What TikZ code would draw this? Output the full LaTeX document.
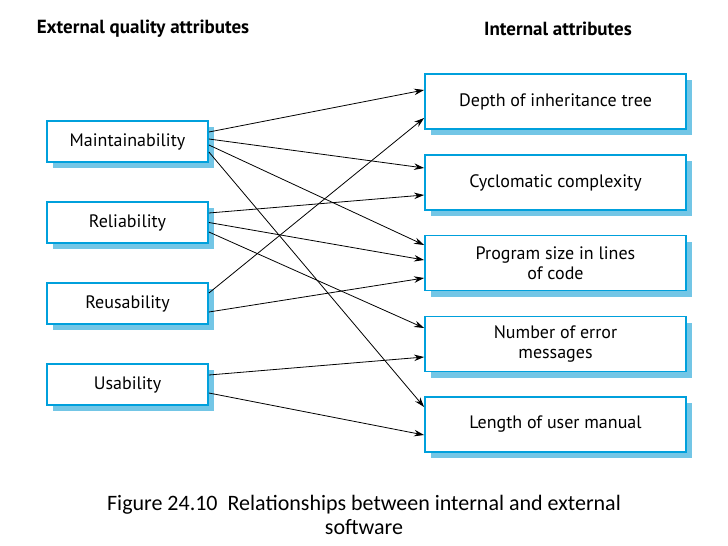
\documentclass[tikz,border=0pt]{standalone}
\usepackage{fontspec}
\setmainfont{PT Sans}
\newfontfamily\capfont{Carlito}
\usetikzlibrary{arrows.meta,shadows}
\definecolor{boxCyan}{RGB}{0,160,220}
\definecolor{shadowBlue}{RGB}{115,198,230}
\begin{document}
\begin{tikzpicture}[x=1pt, y=-1pt,
    attr/.style={draw=boxCyan, line width=1.8pt, fill=white, align=center,
      font=\fontsize{18}{20}\selectfont,
      drop shadow={shadow xshift=6pt, shadow yshift=-6pt, fill=shadowBlue, opacity=1}},
    ext/.style={attr, minimum width=161pt, minimum height=41pt},
    int/.style={attr, minimum width=261pt, minimum height=55pt},
    head/.style={font=\bfseries\fontsize{19}{22}\selectfont},
    link/.style={-{Stealth[length=10pt, width=6.5pt]}, line width=0.8pt}]
    \useasboundingbox (0,0) rectangle (728,546);
    \node[head] (exthead) at (143,29) {External quality attributes};
    \node[head] (inthead) at (558,29) {Internal attributes};
    \node[ext] (maint) at (127.5,141.5) {Maintainability};
    \node[ext] (reli) at (127.5,222.5) {Reliability};
    \node[ext] (reuse) at (127.5,303.5) {Reusability};
    \node[ext] (usab) at (127.5,384.5) {Usability};
    \node[int] (depth) at (555.5,101.5) {Depth of inheritance tree};
    \node[int] (cyclo) at (555.5,182.5) {Cyclomatic complexity};
    \node[int] (size) at (555.5,263) {Program size in lines\\of code};
    \node[int] (errmsg) at (555.5,344) {Number of error\\messages};
    \node[int] (manual) at (555.5,424.5) {Length of user manual};
    \draw[link] ([yshift=9.5pt]maint.east) -- ([yshift=11.5pt]depth.west);
    \draw[link] ([yshift=2.5pt]maint.east) -- ([yshift=14.5pt]cyclo.west);
    \draw[link] ([yshift=-3.5pt]maint.east) -- ([yshift=18pt]size.west);
    \draw[link] ([yshift=-10.5pt]maint.east) -- ([yshift=17.5pt]manual.west);
    \draw[link] ([yshift=9.5pt]reli.east) -- ([yshift=-12.5pt]cyclo.west);
    \draw[link] (reli.east) -- ([yshift=3pt]size.west);
    \draw[link] ([yshift=-9.5pt]reli.east) -- ([yshift=16pt]errmsg.west);
    \draw[link] ([yshift=10.5pt]reuse.east) -- ([yshift=-16.5pt]depth.west);
    \draw[link] ([yshift=-8.5pt]reuse.east) -- ([yshift=-15pt]size.west);
    \draw[link] ([yshift=9.5pt]usab.east) -- ([yshift=-13pt]errmsg.west);
    \draw[link] ([yshift=-8.5pt]usab.east) -- ([yshift=-10.5pt]manual.west);
    \node[font=\capfont\fontsize{22}{24}\selectfont, align=center] (caption) at (364,515)
      {Figure 24.10\ \ Relationships between internal and external\\software};
\end{tikzpicture}
\end{document}
